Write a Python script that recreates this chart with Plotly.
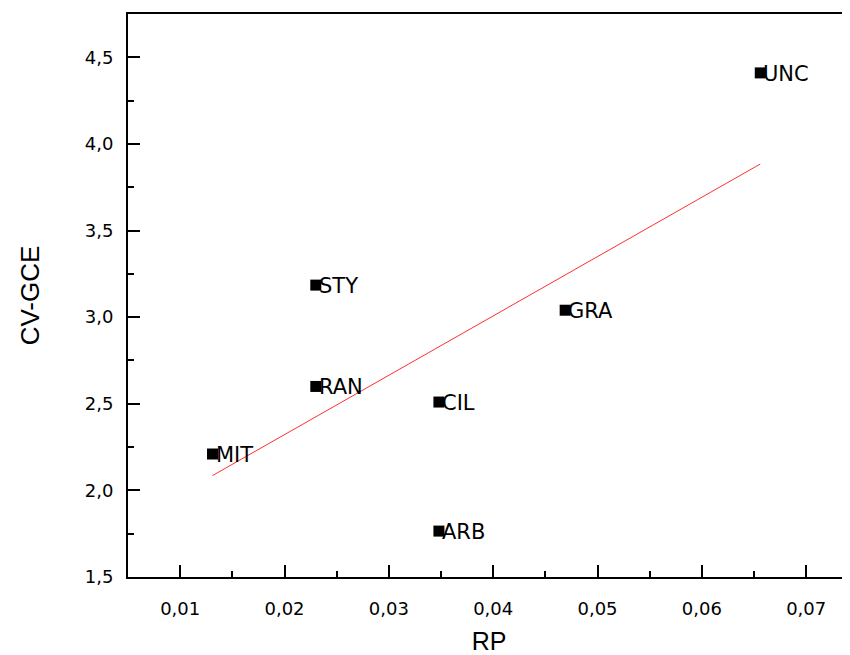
import numpy as np
import plotly.graph_objects as go

labels = ["MIT", "RAN", "STY", "CIL", "ARB", "GRA", "UNC"]
rp = [0.0131, 0.0230, 0.0230, 0.0348, 0.0348, 0.0469, 0.0656]
cv_gce = [2.21, 2.60, 3.185, 2.51, 1.765, 3.04, 4.41]

slope, intercept = np.polyfit(rp, cv_gce, 1)
fit_x = [min(rp), max(rp)]
fit_y = [slope * v + intercept for v in fit_x]

fig = go.Figure()
fig.add_trace(go.Scatter(x=fit_x, y=fit_y, mode="lines",
                         line=dict(color="#ff3030", width=1), showlegend=False,
                         hoverinfo="skip"))
fig.add_trace(go.Scatter(x=rp, y=cv_gce, mode="markers",
                         marker=dict(symbol="square", size=11, color="black"),
                         showlegend=False))

for lab, xv, yv in zip(labels, rp, cv_gce):
    fig.add_annotation(x=xv, y=yv, text=lab, showarrow=False, xanchor="left",
                       yanchor="middle", xshift=1, yshift=-1,
                       font=dict(family="DejaVu Sans", size=21, color="black"))

axis_common = dict(showline=True, linecolor="black", linewidth=2, ticks="inside",
                   tickcolor="black", tickwidth=2, ticklen=12, showgrid=False,
                   zeroline=False)

fig.update_xaxes(range=[0.005, 0.0742], dtick=0.01, tick0=0, tickformat=".2f",
                 mirror=True, ticklabelstandoff=14,
                 minor=dict(dtick=0.005, ticks="inside", ticklen=6, tickwidth=2,
                            tickcolor="black"),
                 tickfont=dict(family="DejaVu Sans", size=18, color="black"),
                 title=dict(text="RP", standoff=16,
                            font=dict(family="Liberation Sans", size=25, color="black")),
                 **axis_common)
fig.update_yaxes(range=[1.5, 4.75], dtick=0.5, tick0=0, tickformat=".1f",
                 mirror=False, ticklabelstandoff=9,
                 minor=dict(dtick=0.25, ticks="inside", ticklen=6, tickwidth=2,
                            tickcolor="black"),
                 tickfont=dict(family="DejaVu Sans", size=18, color="black"),
                 title=dict(text="CV-GCE", standoff=38,
                            font=dict(family="Liberation Sans", size=26, color="black")),
                 **axis_common)

fig.update_layout(width=842, height=647, separators=",.",
                  margin=dict(l=120, r=0, t=6, b=78),
                  plot_bgcolor="white", paper_bgcolor="white")

fig.write_html("out.html")
